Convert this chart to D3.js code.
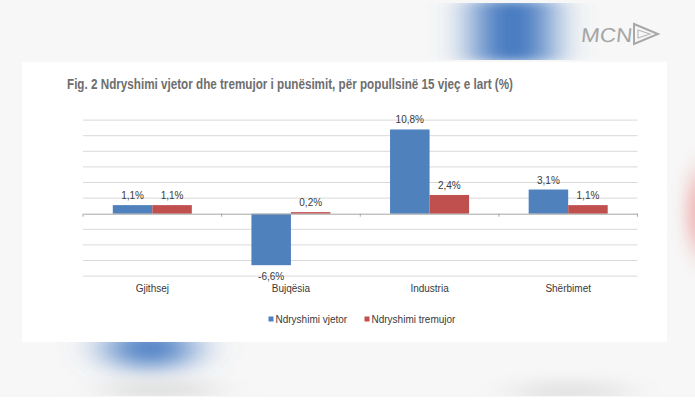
<!DOCTYPE html>
<html><head><meta charset="utf-8">
<script src="https://cdn.jsdelivr.net/npm/d3@7"></script>
<style>html,body{margin:0;padding:0;background:#f6f6f6;}svg{display:block;}</style>
</head><body>
<svg id="c" width="695" height="405"></svg>
<script>
const categories = ["Gjithsej", "Bujqësia", "Industria", "Shërbimet"];
const seriesNames = ["Ndryshimi vjetor", "Ndryshimi tremujor"];
const vjetor = [1.1, -6.6, 10.8, 3.1];
const tremujor = [1.1, 0.2, 2.4, 1.1];
const labelsVjetor = ["1,1%", "-6,6%", "10,8%", "3,1%"];
const labelsTremujor = ["1,1%", "0,2%", "2,4%", "1,1%"];
const yTicks = [-8, -6, -4, -2, 0, 2, 4, 6, 8, 10, 12];
const title = "Fig. 2 Ndryshimi vjetor dhe tremujor i punësimit, për popullsinë 15 vjeç e lart (%)";
const colors = ["#4f81bd", "#c0504d"];

const svg = d3.select("#c");
const defs = svg.append("defs");
[["bTop", "20 6"], ["bBot", "22 11"], ["bRed", "8 16"], ["bGray", "20 8"]].forEach(([id, s]) => {
  defs.append("filter").attr("id", id).attr("x", "-100%").attr("y", "-100%").attr("width", "300%").attr("height", "300%")
    .append("feGaussianBlur").attr("stdDeviation", s);
});
defs.append("clipPath").attr("id", "clipTop").append("rect").attr("x", 0).attr("y", 3).attr("width", 695).attr("height", 57);
defs.append("clipPath").attr("id", "clipBot").append("rect").attr("x", 0).attr("y", 342).attr("width", 695).attr("height", 54);
defs.append("clipPath").attr("id", "clipRight").append("rect").attr("x", 667).attr("y", 0).attr("width", 40).attr("height", 405);

// background
svg.append("rect").attr("width", 695).attr("height", 405).attr("fill", "#f7f7f7");
svg.append("rect").attr("y", 397).attr("width", 695).attr("height", 8).attr("fill", "#ffffff");
svg.append("g").attr("clip-path", "url(#clipTop)")
  .append("rect").attr("x", 475).attr("y", 0).attr("width", 75).attr("height", 62)
  .attr("fill", "#4277bf").attr("filter", "url(#bTop)");
svg.append("g").attr("clip-path", "url(#clipBot)")
  .append("ellipse").attr("cx", 150).attr("cy", 348).attr("rx", 45).attr("ry", 20)
  .attr("fill", "#4a7dc3").attr("filter", "url(#bBot)");
svg.append("g").attr("clip-path", "url(#clipBot)")
  .append("ellipse").attr("cx", 160).attr("cy", 390).attr("rx", 60).attr("ry", 8)
  .attr("fill", "#dadada").attr("filter", "url(#bGray)");
svg.append("g").attr("clip-path", "url(#clipBot)")
  .append("ellipse").attr("cx", 570).attr("cy", 392).attr("rx", 60).attr("ry", 10)
  .attr("fill", "#e0e0e0").attr("filter", "url(#bGray)");
svg.append("g").attr("clip-path", "url(#clipRight)")
  .append("ellipse").attr("cx", 700).attr("cy", 212).attr("rx", 14).attr("ry", 40)
  .attr("fill", "#ea8a88").attr("opacity", 0.6).attr("filter", "url(#bRed)");

// logo
const logo = svg.append("g");
logo.append("text").attr("x", 581).attr("y", 42).attr("font-family", "Liberation Sans Narrow, Liberation Sans, Arial, sans-serif")
  .attr("font-size", 20).attr("fill", "#a5a5a5").attr("textLength", 51).attr("lengthAdjust", "spacingAndGlyphs")
  .attr("transform", "skewX(-6) translate(4,0)").text("MCN");
logo.append("path").attr("d", "M634,24 L658,34 L634,44 Z").attr("fill", "none").attr("stroke", "#a8a8a8").attr("stroke-width", 2);
logo.append("path").attr("d", "M638,30 L650,34 L638,38 Z").attr("fill", "none").attr("stroke", "#b8b8b8").attr("stroke-width", 1.1);

// panel
svg.append("rect").attr("x", 22).attr("y", 62).attr("width", 645).attr("height", 280).attr("fill", "#ffffff");

// title
svg.append("text").attr("x", 67).attr("y", 89).attr("font-family", "Liberation Sans, Arial, sans-serif")
  .attr("font-size", 14).attr("font-weight", "bold").attr("fill", "#6e6e6e")
  .attr("textLength", 446).attr("lengthAdjust", "spacingAndGlyphs").text(title);

const x0 = d3.scaleBand().domain(categories).range([83, 637.5]).padding(0);
const x1 = d3.scaleBand().domain(seriesNames).range([0, x0.bandwidth()]).paddingInner(0).paddingOuter(0.754);
const y = d3.scaleLinear().domain([-8, 12]).range([276.1, 120.1]);

// gridlines
svg.append("g").selectAll("line").data(yTicks.filter(d => d !== 0)).join("line")
  .attr("x1", 83).attr("x2", 637.5).attr("y1", d => y(d)).attr("y2", d => y(d))
  .attr("stroke", "#d9d9d9").attr("stroke-width", 1);

// bars
const data = categories.map((c, i) => ({c, vals: [vjetor[i], tremujor[i]], labels: [labelsVjetor[i], labelsTremujor[i]]}));
const g = svg.append("g");
data.forEach(d => {
  d.vals.forEach((v, j) => {
    const xx = x0(d.c) + x1(seriesNames[j]);
    g.append("rect").attr("x", xx).attr("width", x1.bandwidth())
      .attr("y", y(Math.max(0, v))).attr("height", Math.abs(y(v) - y(0)))
      .attr("fill", colors[j]);
    g.append("text").attr("x", xx + x1.bandwidth() / 2)
      .attr("y", v >= 0 ? y(v) - 6 : y(v) + 15)
      .attr("text-anchor", "middle").attr("font-family", "Liberation Sans, Arial, sans-serif")
      .attr("font-size", 10).attr("fill", "#3a3a3a").text(d.labels[j]);
  });
});

// zero axis with ticks
const axis = d3.axisBottom(x0).tickSize(0).tickFormat("");
const ax = svg.append("g").attr("transform", `translate(0,${y(0)})`).call(axis);
ax.select(".domain").attr("stroke", "#a6a6a6");
const bounds = categories.map(c => x0(c)).concat([x0.range()[1]]);
svg.append("g").selectAll("line").data(bounds).join("line")
  .attr("x1", d => d).attr("x2", d => d).attr("y1", y(0)).attr("y2", y(0) + 3)
  .attr("stroke", "#a6a6a6");

// category labels
svg.append("g").selectAll("text").data(categories).join("text")
  .attr("x", d => x0(d) + x0.bandwidth() / 2).attr("y", 292)
  .attr("text-anchor", "middle").attr("font-family", "Liberation Sans, Arial, sans-serif")
  .attr("font-size", 10).attr("fill", "#3a3a3a").text(d => d);

// legend
const legX = [268.5, 364.5];
seriesNames.forEach((s, j) => {
  svg.append("rect").attr("x", legX[j]).attr("y", 316.5).attr("width", 5).attr("height", 5).attr("fill", colors[j]);
  svg.append("text").attr("x", legX[j] + 7).attr("y", 322.5).attr("font-family", "Liberation Sans, Arial, sans-serif")
    .attr("font-size", 10).attr("fill", "#3a3a3a").text(s);
});
</script>
</body></html>
